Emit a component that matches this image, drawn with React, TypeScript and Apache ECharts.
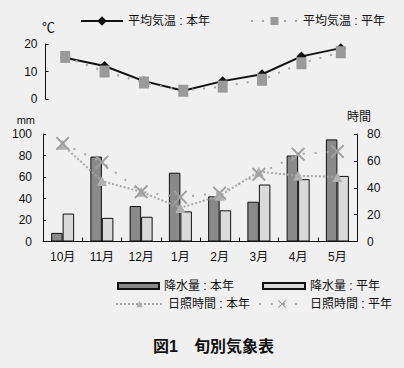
import React, { useEffect, useRef } from "react";
import * as echarts from "echarts";

const months = ["10月", "11月", "12月", "1月", "2月", "3月", "4月", "5月"];
const tempThisYear = [15, 12, 6.5, 3, 6.5, 9, 15.5, 18.5];
const tempNormal = [15.3, 10, 6, 3, 4.5, 7, 13, 17];
const rainThisYear = [8, 79, 33, 64, 42, 37, 80, 95];
const rainNormal = [26, 22, 23, 28, 29, 53, 58, 61];
const sunThisYear = [72, 45, 37, 25, 34, 52, 49, 48];
const sunNormal = [73, 59, 37, 33, 36, 50, 65, 67];

const tempTicks = { min: 0, max: 20, interval: 10 };
const rainTicks = { min: 0, max: 100, interval: 20 };
const sunTicks = { min: 0, max: 80, interval: 20 };

const FONT = "'Liberation Sans', 'Noto Sans CJK JP', sans-serif";
const XSYM = "path://M0,1L1,0L5,4L9,0L10,1L6,5L10,9L9,10L5,6L1,10L0,9L4,5Z";

export default function App() {
  const ref = useRef<HTMLDivElement>(null);
  useEffect(() => {
    document.body.style.margin = "0";
    const chart = echarts.init(ref.current!, null, { renderer: "svg" });
    const txt = { fontFamily: FONT, fontSize: 12, color: "#111" };
    const legendBase = {
      selectedMode: false,
      orient: "horizontal",
      textStyle: { ...txt },
      itemGap: 5,
      padding: 0,
    };
    const axisLine = { show: true, lineStyle: { color: "#111", width: 1 } };
    chart.setOption({
      animation: false,
      backgroundColor: "#f0f0f0",
      textStyle: { fontFamily: FONT },
      title: {
        text: "図1　旬別気象表",
        left: 153,
        top: 338,
        padding: 0,
        textStyle: { fontFamily: FONT, fontSize: 16, fontWeight: "bold", color: "#111" },
      },
      legend: [
        { ...legendBase, left: 80, top: 15, itemWidth: 42, itemHeight: 12, data: ["平均気温 : 本年"] },
        { ...legendBase, left: 250, top: 15, itemWidth: 47, itemHeight: 10, data: ["平均気温 : 平年"] },
        { ...legendBase, left: 117, top: 280, itemWidth: 41, itemHeight: 6, icon: "rect", data: ["降水量 : 本年"] },
        { ...legendBase, left: 262, top: 280, itemWidth: 42, itemHeight: 6, icon: "rect", data: ["降水量 : 平年"] },
        { ...legendBase, left: 115, top: 298, itemWidth: 47, itemHeight: 8, data: ["日照時間 : 本年"] },
        { ...legendBase, left: 258, top: 298, itemWidth: 46, itemHeight: 10, data: ["日照時間 : 平年"] },
      ],
      grid: [
        { left: 45.5, width: 315, top: 44, height: 55 },
        { left: 43, width: 314, top: 134, height: 107.5 },
      ],
      xAxis: [
        { type: "category", gridIndex: 0, data: months, show: false, boundaryGap: true },
        {
          type: "category",
          gridIndex: 1,
          data: months,
          boundaryGap: true,
          axisLine,
          axisTick: { show: true, inside: true, length: 4, lineStyle: { color: "#111" } },
          axisLabel: { ...txt, margin: 9 },
        },
      ],
      yAxis: [
        {
          type: "value",
          gridIndex: 0,
          ...tempTicks,
          name: "℃",
          nameLocation: "end",
          nameGap: 10,
          nameTextStyle: { ...txt, fontSize: 13, align: "center", padding: [0, 0, 0, 6] },
          axisLine,
          axisTick: { show: true, inside: true, length: 3, lineStyle: { color: "#111" } },
          axisLabel: { ...txt, margin: 8 },
          splitLine: { show: false },
        },
        {
          type: "value",
          gridIndex: 1,
          ...rainTicks,
          name: "mm",
          nameLocation: "end",
          nameGap: 9,
          nameTextStyle: { ...txt, fontSize: 11, align: "right", padding: [0, 8, 0, 0] },
          axisLine,
          axisTick: { show: true, inside: true, length: 3, lineStyle: { color: "#111" } },
          axisLabel: { ...txt, margin: 11 },
          splitLine: { show: false },
        },
        {
          type: "value",
          gridIndex: 1,
          position: "right",
          ...sunTicks,
          name: "時間",
          nameLocation: "end",
          nameGap: 11,
          nameTextStyle: { ...txt, align: "center", padding: [0, 0, 0, 4] },
          axisLine,
          axisTick: { show: true, inside: true, length: 3, lineStyle: { color: "#111" } },
          axisLabel: { ...txt, margin: 10 },
          splitLine: { show: false },
        },
      ],
      series: [
        {
          name: "平均気温 : 本年",
          type: "line",
          xAxisIndex: 0,
          yAxisIndex: 0,
          data: tempThisYear,
          symbol: "diamond",
          symbolSize: 10,
          itemStyle: { color: "#111" },
          lineStyle: { color: "#111", width: 2 },
          z: 2,
        },
        {
          name: "平均気温 : 平年",
          type: "line",
          xAxisIndex: 0,
          yAxisIndex: 0,
          data: tempNormal,
          symbol: "rect",
          symbolSize: [10, 12],
          itemStyle: { color: "#9a9a9a" },
          lineStyle: { color: "#a5a5a5", width: 2, type: [2, 9] },
          z: 3,
        },
        {
          name: "降水量 : 本年",
          type: "bar",
          xAxisIndex: 1,
          yAxisIndex: 1,
          data: rainThisYear,
          barWidth: 11.5,
          barGap: "0%",
          itemStyle: { color: "#8a8a8a", borderColor: "#111", borderWidth: 1 },
        },
        {
          name: "降水量 : 平年",
          type: "bar",
          xAxisIndex: 1,
          yAxisIndex: 1,
          data: rainNormal,
          barWidth: 11.5,
          barGap: "0%",
          itemStyle: { color: "#dadada", borderColor: "#111", borderWidth: 1 },
        },
        {
          name: "日照時間 : 本年",
          type: "line",
          xAxisIndex: 1,
          yAxisIndex: 2,
          data: sunThisYear,
          symbol: "triangle",
          symbolSize: 10,
          itemStyle: { color: "#b0b0b0" },
          lineStyle: { color: "#a8a8a8", width: 2, type: [2, 2] },
          z: 4,
        },
        {
          name: "日照時間 : 平年",
          type: "line",
          xAxisIndex: 1,
          yAxisIndex: 2,
          data: sunNormal,
          symbol: XSYM,
          symbolSize: 14,
          itemStyle: { color: "#a0a0a0" },
          lineStyle: { color: "#a8a8a8", width: 2, type: [2, 10] },
          z: 4,
        },
      ],
    });
    return () => chart.dispose();
  }, []);
  return <div ref={ref} style={{ width: 404, height: 368 }} />;
}
